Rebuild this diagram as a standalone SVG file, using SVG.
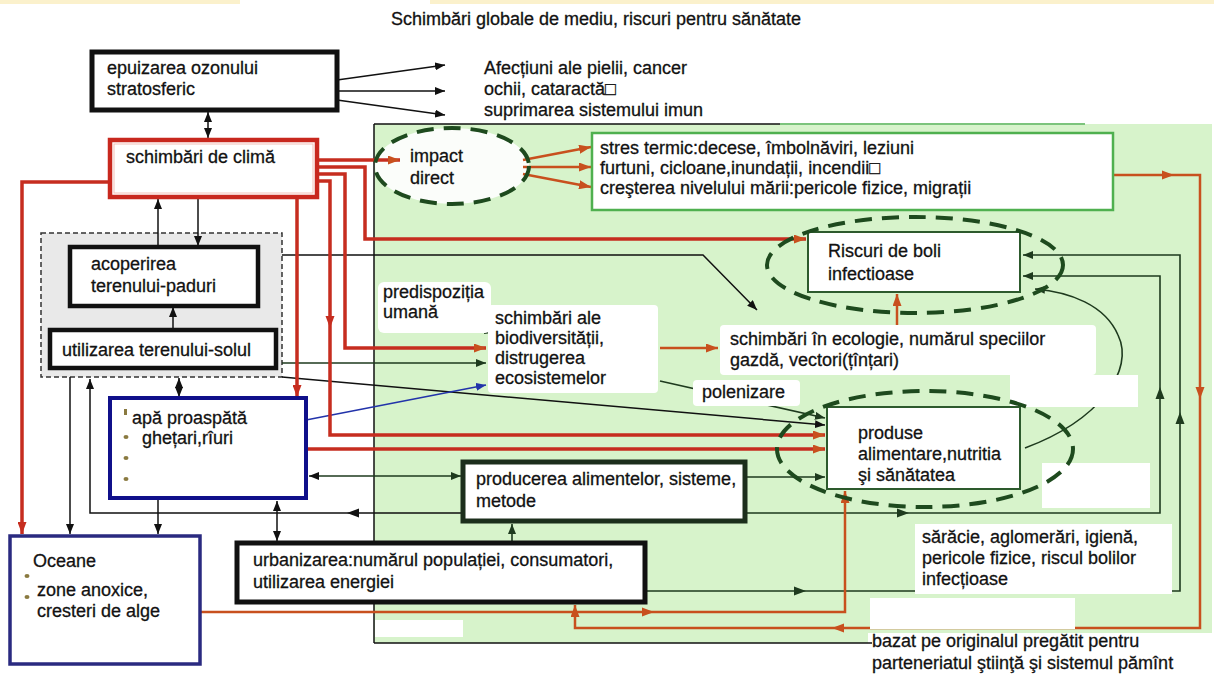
<svg xmlns="http://www.w3.org/2000/svg" width="1214" height="677" viewBox="0 0 1214 677">
  <defs>
    <style>
      .t{font-family:"Liberation Sans",Arial,sans-serif;font-size:18px;fill:#121212;stroke:#121212;stroke-width:0.3}
      .k{fill:none;stroke:#111;stroke-width:1.5}
      .g{fill:none;stroke:#1e3a1e;stroke-width:1.6}
      .r{fill:none;stroke:#c62d1f;stroke-width:3.5}
      .o{fill:none;stroke:#c8501e;stroke-width:2.5}
      .b{fill:none;stroke:#2233aa;stroke-width:1.5}
      .bg{fill:#fff}
      .ell{fill:none;stroke:#1e4a1e;stroke-width:4;stroke-dasharray:17 10}
      .bul{fill:#8a7a40}
    </style>
    <marker id="aK" viewBox="0 0 10 8" refX="10" refY="4" markerWidth="10" markerHeight="8" markerUnits="userSpaceOnUse" orient="auto-start-reverse"><path d="M0,0 L10,4 L0,8 z" fill="#111"/></marker>
    <marker id="aG" viewBox="0 0 10 8" refX="10" refY="4" markerWidth="10" markerHeight="8" markerUnits="userSpaceOnUse" orient="auto-start-reverse"><path d="M0,0 L10,4 L0,8 z" fill="#1e3a1e"/></marker>
    <marker id="aR" viewBox="0 0 12 9" refX="12" refY="4.5" markerWidth="12" markerHeight="9" markerUnits="userSpaceOnUse" orient="auto"><path d="M0,0 L12,4.5 L0,9 z" fill="#c62d1f"/></marker>
    <marker id="aO" viewBox="0 0 12 9" refX="12" refY="4.5" markerWidth="12" markerHeight="9" markerUnits="userSpaceOnUse" orient="auto"><path d="M0,0 L12,4.5 L0,9 z" fill="#c8501e"/></marker>
    <marker id="aB" viewBox="0 0 10 8" refX="10" refY="4" markerWidth="10" markerHeight="8" markerUnits="userSpaceOnUse" orient="auto"><path d="M0,0 L10,4 L0,8 z" fill="#2233aa"/></marker>
    <path id="ah" d="M-6,-4.5 L6,0 L-6,4.5 z"/>
  </defs>

  <!-- page -->
  <rect width="1214" height="677" fill="#fff"/>
  <rect x="0" y="0" width="240" height="4" fill="#fbf1cc"/>
  <rect x="430" y="0" width="784" height="4" fill="#fbf1cc"/>

  <!-- health-impact zone -->
  <rect x="374" y="124" width="838" height="519" fill="#d7f3cb"/>
  <rect x="868" y="633" width="346" height="44" fill="#fff"/>
  <line x1="374" y1="124" x2="780" y2="124" stroke="#111" stroke-width="1.5"/>
  <line x1="780" y1="124" x2="1085" y2="124" stroke="#7cc47c" stroke-width="2"/>
  <line x1="374" y1="124" x2="374" y2="643" stroke="#111" stroke-width="1.5"/>
  <line x1="374" y1="643" x2="872" y2="643" stroke="#111" stroke-width="1.5"/>

  <text class="t" x="596" y="25" text-anchor="middle">Schimbări globale de mediu, riscuri pentru sănătate</text>

  <!-- land group container -->
  <rect id="land-group" x="41" y="233" width="241" height="144" fill="#e9e9e9" stroke="#333" stroke-width="1.5" stroke-dasharray="5 3"/>

  <!-- ellipse fill behind connectors -->
  <ellipse cx="452" cy="166" rx="77" ry="38" fill="#fbfdfa"/>

  <g id="connectors">
    <!-- ozone depletion -->
    <path class="k" d="M337,80 L445,65" marker-end="url(#aK)"/>
    <path class="k" d="M337,91 L445,91" marker-end="url(#aK)"/>
    <path class="k" d="M337,100 L445,115" marker-end="url(#aK)"/>
    <path class="k" d="M208,112 L208,138" marker-start="url(#aK)" marker-end="url(#aK)"/>
    <!-- land cover / land use -->
    <path class="k" d="M158,247 L158,199" marker-end="url(#aK)"/>
    <path class="k" d="M198,199 L198,246" marker-end="url(#aK)"/>
    <path class="k" d="M173,329 L173,307" marker-end="url(#aK)"/>
    <path class="k" d="M179,378 L179,397" marker-start="url(#aK)" marker-end="url(#aK)"/>
    <path class="k" d="M70,377 L70,534" marker-end="url(#aK)"/>
    <path class="k" d="M282,255 L703,255 L757,310" marker-end="url(#aK)"/>
    <path class="g" d="M282,363 L486,363" marker-end="url(#aG)"/>
    <path class="k" d="M282,377 L825,425" marker-end="url(#aK)"/>
    <!-- fresh water -->
    <path class="k" d="M158,500 L158,534" marker-end="url(#aK)"/>
    <path class="k" d="M277,501 L277,541" marker-start="url(#aK)" marker-end="url(#aK)"/>
    <path class="g" d="M309,476 L461,476" marker-start="url(#aK)" marker-end="url(#aG)"/>
    <path class="b" d="M306,420 L486,385" marker-end="url(#aB)"/>
    <!-- food production -->
    <path class="g" d="M512,543 L512,524" marker-end="url(#aG)"/>
    <path class="g" d="M745,477 L825,477" marker-end="url(#aG)"/>
    <path class="k" d="M463,513 L90,513 L90,379" marker-end="url(#aK)"/>
    <use href="#ah" transform="translate(353,513) rotate(180)" fill="#111"/>
    <path class="g" d="M745,513 L1160,513 L1160,276 L1023,276" marker-end="url(#aG)"/>
    <use href="#ah" transform="translate(903,513)" fill="#1e3a1e"/>
    <use href="#ah" transform="translate(1160,393) rotate(-90)" fill="#1e3a1e"/>
    <!-- urbanisation -->
    <path class="g" d="M645,591 L1180,591 L1180,255 L1023,255" marker-end="url(#aG)"/>
    <use href="#ah" transform="translate(800,591)" fill="#1e3a1e"/>
    <use href="#ah" transform="translate(1180,418) rotate(-90)" fill="#1e3a1e"/>
    <!-- biodiversity / ecology -->
    <path class="g" d="M660,381 L825,418" marker-end="url(#aG)"/>
    <path class="o" d="M660,348 L718,348" stroke-width="1.8" marker-end="url(#aO)"/>
    <path class="o" d="M897,326 L897,294" marker-end="url(#aO)"/>
    <path class="g" d="M1025,448 C1100,420 1135,370 1118,335 C1105,305 1070,292 1035,289" marker-end="url(#aG)"/>
    <!-- climate change -->
    <path class="r" d="M317,160 L400,160" marker-end="url(#aO)"/>
    <path class="r" d="M317,167 L365,167 L365,239 L806,239" marker-end="url(#aO)"/>
    <path class="r" d="M317,174 L345,174 L345,348 L486,348" marker-end="url(#aO)"/>
    <path class="r" d="M317,181 L330,181 L330,435 L825,435" marker-end="url(#aO)"/>
    <use href="#ah" transform="translate(330,322) rotate(90)" fill="#c62d1f"/>
    <path class="r" d="M297,198 L297,397" marker-end="url(#aR)"/>
    <path class="r" d="M110,182 L22,182 L22,534" stroke="#d42a2a" stroke-width="3" marker-end="url(#aR)"/>
    <path class="r" d="M306,449 L825,449" stroke-width="3" marker-end="url(#aO)"/>
    <!-- direct impact -->
    <path class="o" d="M523,160 L591,147" stroke-width="1.8" marker-end="url(#aO)"/>
    <path class="o" d="M523,167 L591,167" stroke-width="1.8" marker-end="url(#aO)"/>
    <path class="o" d="M523,174 L591,187" stroke-width="1.8" marker-end="url(#aO)"/>
    <path class="o" d="M1113,175 L1200,175 L1200,628 L575,628 L575,605" marker-end="url(#aO)"/>
    <use href="#ah" transform="translate(1168,175)" fill="#c8501e"/>
    <use href="#ah" transform="translate(1200,393) rotate(90)" fill="#c8501e"/>
    <use href="#ah" transform="translate(838,628) rotate(180)" fill="#c8501e"/>
    <!-- oceans -->
    <path class="o" d="M200,612 L845,612 L845,491" marker-end="url(#aO)"/>
    <use href="#ah" transform="translate(648,612)" fill="#c8501e"/>
    <!-- predisposition -->
    <path d="M485,327 L492,333 L484,334 z" fill="#1e3a1e"/>
  </g>

  <!-- text backdrops and cleared areas -->
  <rect class="bg" x="378" y="282" width="113" height="51" rx="6"/>
  <rect class="bg" x="488" y="305" width="170" height="88" rx="4"/>
  <rect class="bg" x="720" y="325" width="376" height="50" rx="4"/>
  <rect class="bg" x="693" y="380" width="107" height="26" rx="4"/>
  <rect class="bg" x="1010" y="375" width="128" height="32"/>
  <rect class="bg" x="1042" y="463" width="108" height="45"/>
  <rect class="bg" x="915" y="524" width="257" height="70"/>
  <rect class="bg" x="375" y="620" width="88" height="17"/>
  <rect class="bg" x="870" y="598" width="205" height="31"/>

  <g id="ozone">
    <rect x="92" y="52" width="245" height="58" fill="#fff" stroke="#111" stroke-width="5"/>
    <text class="t" x="107" y="74">epuizarea ozonului</text>
    <text class="t" x="107" y="95">stratosferic</text>
  </g>

  <g id="ozone-effects">
    <text class="t" x="484" y="74">Afecțiuni ale pielii, cancer</text>
    <text class="t" x="484" y="95">ochii, cataractă□</text>
    <text class="t" x="484" y="116">suprimarea sistemului imun</text>
  </g>

  <g id="climate">
    <rect x="110" y="140" width="207" height="57" fill="#fff" stroke="#c8281e" stroke-width="4.5"/>
    <rect x="114" y="144" width="199" height="49" fill="none" stroke="#f3c0b8" stroke-width="1"/>
    <text class="t" x="126" y="163">schimbări de climă</text>
  </g>

  <g id="impact">
    <ellipse class="ell" cx="452" cy="166" rx="77" ry="38"/>
    <text class="t" x="410" y="162">impact</text>
    <text class="t" x="410" y="184">direct</text>
  </g>

  <g id="direct-effects">
    <rect x="592" y="133" width="521" height="77" fill="#fff" stroke="#4fb04f" stroke-width="2.5"/>
    <text class="t" x="600" y="154">stres termic:decese, îmbolnăviri, leziuni</text>
    <text class="t" x="600" y="174">furtuni, cicloane,inundații, incendii□</text>
    <text class="t" x="600" y="194">creşterea nivelului mării:pericole fizice, migrații</text>
  </g>

  <g id="land-cover">
    <rect x="70" y="247" width="188" height="59" fill="#fff" stroke="#111" stroke-width="4.5"/>
    <text class="t" x="91" y="270">acoperirea</text>
    <text class="t" x="91" y="292">terenului-paduri</text>
  </g>

  <g id="land-use">
    <rect x="50" y="330" width="226" height="38" fill="#fff" stroke="#111" stroke-width="4.5"/>
    <text class="t" x="62" y="356">utilizarea terenului-solul</text>
  </g>

  <g id="fresh-water">
    <rect x="110" y="398" width="196" height="100" fill="#fff" stroke="#10108a" stroke-width="4"/>
    <rect class="bul" x="124" y="409" width="3" height="6"/>
    <ellipse class="bul" cx="126" cy="437" rx="2.5" ry="2"/>
    <ellipse class="bul" cx="126" cy="458" rx="2.5" ry="2"/>
    <ellipse class="bul" cx="126" cy="479" rx="2.5" ry="2"/>
    <text class="t" x="132" y="424">apă proaspătă</text>
    <text class="t" x="142" y="444">ghețari,rîuri</text>
  </g>

  <g id="oceans">
    <rect x="10" y="536" width="190" height="128" fill="#fff" stroke="#2a2a80" stroke-width="3.5"/>
    <ellipse class="bul" cx="27" cy="576" rx="2.5" ry="2"/>
    <ellipse class="bul" cx="27" cy="597" rx="2.5" ry="2"/>
    <text class="t" x="33" y="567">Oceane</text>
    <text class="t" x="37" y="596">zone anoxice,</text>
    <text class="t" x="37" y="617">cresteri de alge</text>
  </g>

  <g id="urbanisation">
    <rect x="237" y="543" width="408" height="59" fill="#fff" stroke="#111" stroke-width="5"/>
    <text class="t" x="253" y="566">urbanizarea:numărul populației, consumatori,</text>
    <text class="t" x="253" y="588">utilizarea energiei</text>
  </g>

  <g id="food-production">
    <rect x="463" y="462" width="282" height="59" fill="#fff" stroke="#1c2e1c" stroke-width="5"/>
    <text class="t" x="476" y="485">producerea alimentelor, sisteme,</text>
    <text class="t" x="476" y="507">metode</text>
  </g>

  <g id="predisposition">
    <text class="t" x="383" y="298">predispoziția</text>
    <text class="t" x="383" y="318">umană</text>
  </g>

  <g id="biodiversity">
    <text class="t" x="495" y="324">schimbări ale</text>
    <text class="t" x="495" y="344">biodiversității,</text>
    <text class="t" x="495" y="364">distrugerea</text>
    <text class="t" x="495" y="384">ecosistemelor</text>
  </g>

  <g id="ecology">
    <text class="t" x="730" y="345">schimbări în ecologie, numărul speciilor</text>
    <text class="t" x="730" y="366">gazdă, vectori(țînțari)</text>
  </g>

  <g id="pollination">
    <text class="t" x="702" y="398">polenizare</text>
  </g>

  <g id="infectious-risk">
    <rect x="808" y="232" width="212" height="60" fill="#fff" stroke="#2d5a2d" stroke-width="2"/>
    <ellipse class="ell" cx="915" cy="265" rx="148" ry="48"/>
    <text class="t" x="828" y="257">Riscuri de boli</text>
    <text class="t" x="828" y="280">infectioase</text>
  </g>

  <g id="food-health">
    <rect x="827" y="407" width="193" height="82" fill="#fff" stroke="#2d5a2d" stroke-width="2"/>
    <ellipse class="ell" cx="925" cy="449" rx="148" ry="58"/>
    <text class="t" x="858" y="439">produse</text>
    <text class="t" x="858" y="460">alimentare,nutritia</text>
    <text class="t" x="858" y="481">şi sănătatea</text>
  </g>

  <g id="poverty">
    <text class="t" x="922" y="543">sărăcie, aglomerări, igienă,</text>
    <text class="t" x="922" y="564">pericole fizice, riscul bolilor</text>
    <text class="t" x="922" y="585">infecțioase</text>
  </g>

  <g id="source-note">
    <text class="t" x="872" y="647" font-size="17">bazat pe originalul pregătit pentru</text>
    <text class="t" x="872" y="669" font-size="17">parteneriatul ştiinţă şi sistemul pămînt</text>
  </g>
</svg>
